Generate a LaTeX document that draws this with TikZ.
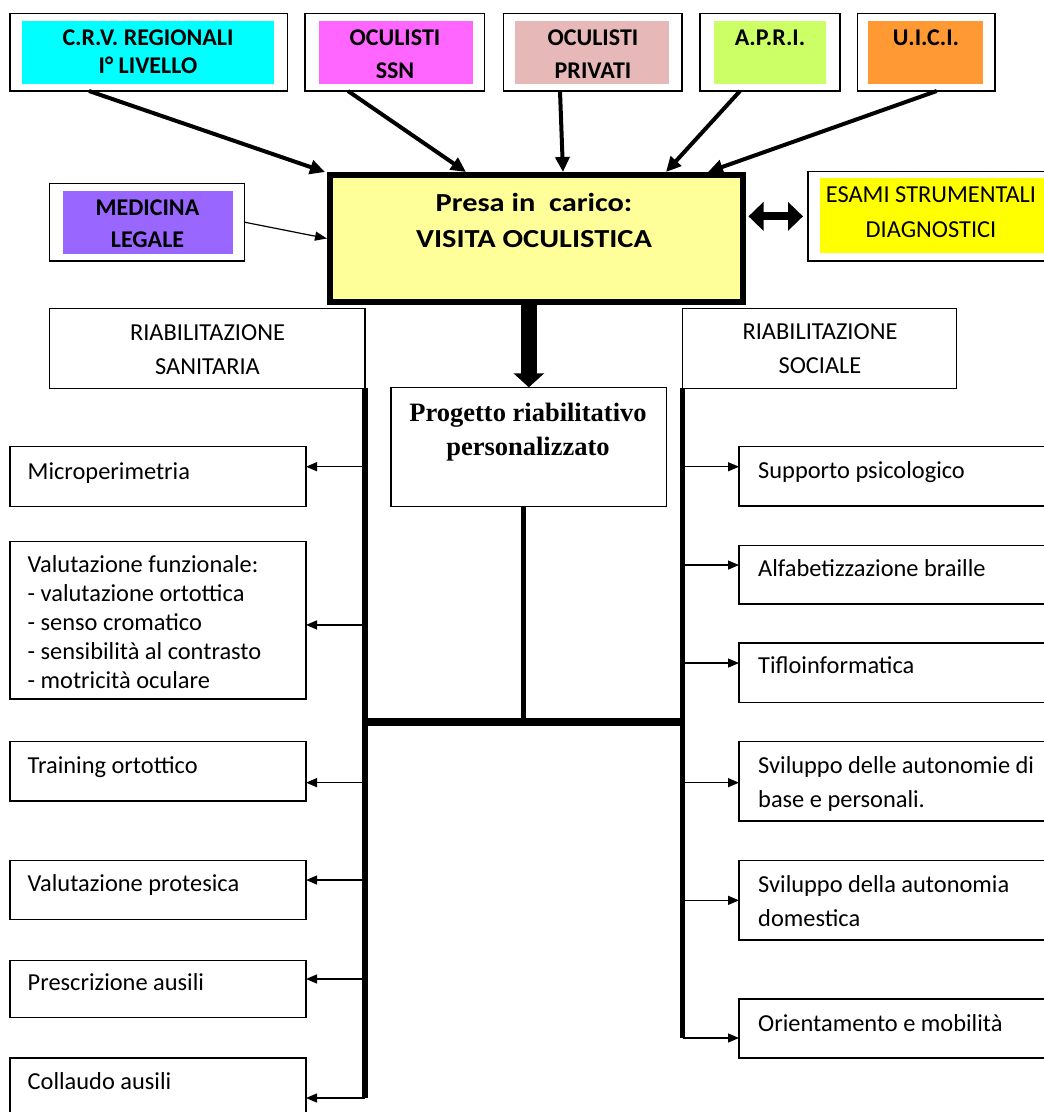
\documentclass[tikz,border=0pt]{standalone}
\usepackage{fontspec}
\setmainfont{Carlito}
\newfontfamily\progfont{Liberation Serif}
\newfontfamily\widefont[FakeStretch=1.17]{Carlito}
\usetikzlibrary{arrows.meta}

\definecolor{crvcyan}{HTML}{00FFFF}
\definecolor{ssnpink}{HTML}{FF66FF}
\definecolor{privrose}{HTML}{E6B9B8}
\definecolor{aprigreen}{HTML}{CCFF66}
\definecolor{uiciorange}{HTML}{FF9933}
\definecolor{medviolet}{HTML}{9966FF}
\definecolor{esamiyellow}{HTML}{FFFF00}
\definecolor{presayellow}{HTML}{FFFF99}

\begin{document}
\begin{tikzpicture}[x=1pt, y=-1pt,
    frame/.style={draw, line width=1.3pt, inner sep=0pt, outer sep=0pt, anchor=north west},
    tag/.style={fill=#1, inner sep=0pt, outer sep=0pt, anchor=north west},
    capt/.style={font=\fontsize{24}{32.3}\selectfont\bfseries, align=center, anchor=base, inner sep=0pt},
    head/.style={font=\fontsize{24.4}{34}\selectfont, align=center, anchor=base, inner sep=0pt},
    item/.style={font=\fontsize{24.4}{29}\selectfont, align=left, anchor=base west, inner sep=0pt},
    feed/.style={line width=4pt, -{Triangle[length=15pt,width=14pt]}},
    branch/.style={line width=1.3pt, -{Triangle[length=11pt,width=9pt]}},
    trunk/.style={line width=5.5pt}]

\useasboundingbox (0,0) rectangle (1044,1112);
\clip (0,0) rectangle (1044,1112);

% ---- sources (top row); multi-line texts sit on their last baseline ----
\node[frame, minimum width=277.7, minimum height=77.7] (crv) at (10,13.3) {};
\node[tag=crvcyan, minimum width=252.3, minimum height=63.3] (crvfill) at (21.7,20.7) {};
\node[capt] (crvtxt) at (148,73.3) {C.R.V. REGIONALI\\[-4pt]I° LIVELLO};

\node[frame, minimum width=179.3, minimum height=77.7] (ssn) at (305,13.3) {};
\node[tag=ssnpink, minimum width=153.7, minimum height=63.3] (ssnfill) at (319,20.7) {};
\node[capt] (ssntxt) at (395,78) {OCULISTI\\SSN};

\node[frame, minimum width=178.7, minimum height=77.7] (priv) at (503.3,13.3) {};
\node[tag=privrose, minimum width=154, minimum height=63.3] (privfill) at (515,20.7) {};
\node[capt] (privtxt) at (593,78) {OCULISTI\\PRIVATI};

\node[frame, minimum width=140, minimum height=77.7] (apri) at (700,13.3) {};
\node[tag=aprigreen, minimum width=112, minimum height=63.3] (aprifill) at (714,20.7) {};
\node[capt] (apritxt) at (770,45.7) {A.P.R.I.};

\node[frame, minimum width=137.7, minimum height=77.7] (uici) at (857.3,13.3) {};
\node[tag=uiciorange, minimum width=115, minimum height=63.3] (uicifill) at (868.3,20.7) {};
\node[capt] (uicitxt) at (926,45.7) {U.I.C.I.};

\node[frame, minimum width=195, minimum height=77.7] (med) at (49.3,183.3) {};
\node[tag=medviolet, minimum width=169.4, minimum height=63.3] (medfill) at (63.3,190.7) {};
\node[capt] (medtxt) at (147.5,247.3) {MEDICINA\\LEGALE};

\node[frame, minimum width=260, minimum height=89.3] (esami) at (808,171.7) {};
\node[tag=esamiyellow, minimum width=250, minimum height=75] (esamifill) at (820,178.3) {};
\node[head] (esamitxt) at (931,237.3) {ESAMI STRUMENTALI\\[0.6pt]DIAGNOSTICI};

% ---- presa in carico ----
\node[draw, line width=6pt, fill=presayellow, inner sep=0pt, anchor=north west,
      minimum width=412.5, minimum height=127] (visit) at (327,172) {};
\node[head, font=\widefont\fontsize{26}{35.6}\selectfont\bfseries] (visittxt) at (534,247.3)
     {Presa in\ \ carico:\\VISITA OCULISTICA};

\draw[feed] ([xshift=79]crv.south west) -- ([xshift=-2]visit.north west);
\draw[feed] ([xshift=43]ssn.south west) -- ([xshift=139]visit.north west);
\draw[feed] ([xshift=56.7]priv.south west) -- ([xshift=236]visit.north west);
\draw[feed] ([xshift=40]apri.south west) -- ([xshift=339]visit.north west);
\draw[feed] ([xshift=79.4]uici.south west) -- ([xshift=381]visit.north west);
\draw[line width=1.2pt, -{Triangle[length=12pt,width=9pt]}] (med.east) -- (visit.west);
\draw[line width=8pt, {Triangle[length=15pt,width=28pt]}-{Triangle[length=15pt,width=28pt]},
      shorten <=3pt, shorten >=5pt] (visit.east |- esami.west) -- (esami.west);

% ---- two branches and the project ----
\node[frame, minimum width=315.7, minimum height=80] (sanit) at (49.3,308.3) {};
\node[head] (sanittxt) at (207.5,374) {RIABILITAZIONE\\SANITARIA};
\node[frame, minimum width=274, minimum height=80] (social) at (682.7,308.3) {};
\node[head] (socialtxt) at (820,373.3) {RIABILITAZIONE\\SOCIALE};

\node[frame, minimum width=275.7, minimum height=119.4] (prog) at (391,387.3) {};
\node[anchor=base, inner sep=0pt, align=center,
      font=\progfont\bfseries\fontsize{26.5}{33.3}\selectfont] (progtxt) at (528,455)
     {Progetto riabilitativo\\personalizzato};

\draw[line width=16pt, -{Triangle[length=14pt,width=30pt]}] (visit.south -| prog.north) -- (prog.north);

% ---- left list: riabilitazione sanitaria ----
\node[frame, minimum width=296, minimum height=60] (mic) at (10,446.7) {};
\node[item] (mictxt) at (27.5,479) {Microperimetria};
\node[frame, minimum width=296, minimum height=157.3] (valf) at (10,541.7) {};
\node[item] (valftxt) at (27.5,688) {Valutazione funzionale:\\- valutazione ortottica\\- senso cromatico\\- sensibilità al contrasto\\- motricità oculare};
\node[frame, minimum width=296, minimum height=59.3] (train) at (10,741.7) {};
\node[item] (traintxt) at (27.5,773) {Training ortottico};
\node[frame, minimum width=296, minimum height=59] (prot) at (10,860.7) {};
\node[item] (prottxt) at (27.5,891.7) {Valutazione protesica};
\node[frame, minimum width=296, minimum height=57] (presc) at (10,960.7) {};
\node[item] (presctxt) at (27.5,990) {Prescrizione ausili};
\node[frame, minimum width=296, minimum height=80] (coll) at (10,1058) {};
\node[item] (colltxt) at (27.5,1089) {Collaudo ausili};

% ---- right list: riabilitazione sociale ----
\node[frame, minimum width=320, minimum height=59.3] (supp) at (739,446.7) {};
\node[item] (supptxt) at (758,478) {Supporto psicologico};
\node[frame, minimum width=320, minimum height=58.3] (alfa) at (739,545.7) {};
\node[item] (alfatxt) at (758,576) {Alfabetizzazione braille};
\node[frame, minimum width=320, minimum height=59.7] (tiflo) at (739,643) {};
\node[item] (tiflotxt) at (758,673) {Tifloinformatica};
\node[frame, minimum width=320, minimum height=79.3] (svil) at (739,741.7) {};
\node[item] (sviltxt) at (758,807.7) {Sviluppo delle autonomie di\\[5.7pt]base e personali.};
\node[frame, minimum width=320, minimum height=79.3] (dom) at (739,860.7) {};
\node[item] (domtxt) at (758,926.7) {Sviluppo della autonomia\\[5.7pt]domestica};
\node[frame, minimum width=320, minimum height=59] (orient) at (739,999) {};
\node[item] (orienttxt) at (758,1031) {Orientamento e mobilità};

% arrow ends on the lists
\coordinate (lroot) at (sanit.south east);
\coordinate (rroot) at (social.south west);
\coordinate (micin) at ([yshift=10]mic.east);
\coordinate (valfin) at ([yshift=-4.6]valf.east);
\coordinate (trainin) at ([yshift=-11.3]train.east);
\coordinate (protin) at ([yshift=10.2]prot.east);
\coordinate (prescin) at ([yshift=10.2]presc.east);
\coordinate (collin) at (coll.east);
\coordinate (suppin) at ([yshift=9.6]supp.west);
\coordinate (alfain) at ([yshift=9.8]alfa.west);
\coordinate (tifloin) at ([yshift=9.8]tiflo.west);
\coordinate (svilin) at ([yshift=-1.3]svil.west);
\coordinate (domin) at (dom.west);
\coordinate (orientin) at ([yshift=-9.5]orient.west);
\coordinate (join) at (523.5,722);

% trunks
\draw[trunk] (lroot) -- (lroot |- collin);
\draw[trunk, line width=4.5pt] (rroot) -- (rroot |- orientin);
\draw[line width=7.5pt] (lroot |- join) -- (rroot |- join);
\draw[line width=5pt] (prog.south -| join) -- (join);

% branches
\draw[branch] (lroot |- micin) -- (micin);
\draw[branch] (lroot |- valfin) -- (valfin);
\draw[branch] (lroot |- trainin) -- (trainin);
\draw[branch] (lroot |- protin) -- (protin);
\draw[branch] (lroot |- prescin) -- (prescin);
\draw[branch] (lroot |- collin) -- (collin);
\draw[branch] (rroot |- suppin) -- (suppin);
\draw[branch] (rroot |- alfain) -- (alfain);
\draw[branch] (rroot |- tifloin) -- (tifloin);
\draw[branch] (rroot |- svilin) -- (svilin);
\draw[branch] (rroot |- domin) -- (domin);
\draw[branch] (rroot |- orientin) -- (orientin);

\end{tikzpicture}
\end{document}
